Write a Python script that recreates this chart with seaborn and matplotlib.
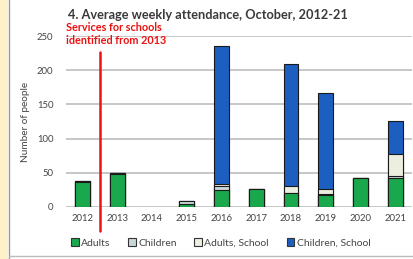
import numpy as np
import pandas as pd
import seaborn as sns
import matplotlib.pyplot as plt
from matplotlib.patches import Patch, Rectangle
from matplotlib.lines import Line2D

years = ["2012", "2013", "2014", "2015", "2016", "2017", "2018", "2019", "2020", "2021"]
adults = [37, 48, 0, 5, 25, 26, 20, 18, 42, 43]
children = [1, 1, 0, 4, 5, 0, 1, 1, 0, 3]
adults_school = [0, 0, 0, 0, 4, 0, 9, 7, 0, 32]
children_school = [0, 0, 0, 0, 201, 0, 179, 140, 0, 48]

series = ["Adults", "Children", "Adults, School", "Children, School"]
colors = ["#19a84b", "#c9d6d9", "#eceedf", "#1c5fc1"]

sns.set_style("white")
plt.rcParams["font.family"] = ["Lato", "DejaVu Sans"]

fig = plt.figure(figsize=(4.14, 2.59), dpi=100)
ax = fig.add_axes([66 / 414, 1 - 207 / 259, 346 / 414, 171 / 259])

# stacked bars: draw cumulative totals from the top layer downwards
layers = np.array([adults, children, adults_school, children_school], dtype=float)
cum = np.cumsum(layers, axis=0)
for i in range(3, -1, -1):
    vals = cum[i].copy()
    vals[vals == 0] = np.nan
    df = pd.DataFrame({"year": years, "value": vals})
    sns.barplot(data=df, x="year", y="value", order=years, color=colors[i],
                saturation=1, width=0.43, edgecolor="#1a1a1a", linewidth=0.8,
                errorbar=None, ax=ax, zorder=3)

ax.set_ylim(0, 250)
ax.set_xlim(-0.47, 9.48)
ax.set_yticks([0, 50, 100, 150, 200, 250])
ax.yaxis.grid(True, color="#bdbdbd", linewidth=1.2, zorder=0)
ax.set_axisbelow(True)
for s in ax.spines.values():
    s.set_visible(False)
ax.tick_params(axis="both", length=0, labelsize=6.8, colors="#444444")
ax.tick_params(axis="x", pad=5)
ax.tick_params(axis="y", pad=9)
ax.set_xlabel("")
ax.set_ylabel("Number of people", fontsize=7.2, color="#444444", labelpad=5)

# marker for schools services
ax.plot([0.5, 0.5], [227, -35], color="#ee1111", linewidth=1.8, clip_on=False, zorder=5)

fig.text(68 / 414, 1 - 15 / 259, "4. Average weekly attendance, October, 2012-21",
         fontsize=9.2, fontweight="bold", color="#3a3a3a", va="center", ha="left")
fig.text(66 / 414, 1 - 22 / 259, "Services for schools\nidentified from 2013",
         fontsize=7.8, color="#ee1111", fontweight="bold", va="top", ha="left",
         linespacing=1.2)

handles = [Patch(facecolor=c, edgecolor="#333333", linewidth=0.8) for c in colors]
fig.legend(handles, series, loc="center left", bbox_to_anchor=(62 / 414, 1 - 243 / 259),
           ncol=4, frameon=False, fontsize=7.5, handlelength=0.7, handleheight=0.7,
           handletextpad=0.25, columnspacing=1.7, labelcolor="#444444")

# page border decorations
fig.patches.append(Rectangle((0, 0), 8 / 414, 1, transform=fig.transFigure,
                             facecolor="#fcf1c9", edgecolor="none", zorder=0))
fig.lines.append(Line2D([8.5 / 414, 8.5 / 414], [0, 1], transform=fig.transFigure,
                        color="#9a9a9a", linewidth=1.0))
fig.lines.append(Line2D([8.5 / 414, 1], [3.5 / 259, 3.5 / 259], transform=fig.transFigure,
                        color="#bbbbbb", linewidth=1.0))

fig.savefig("out.png", dpi=100)
